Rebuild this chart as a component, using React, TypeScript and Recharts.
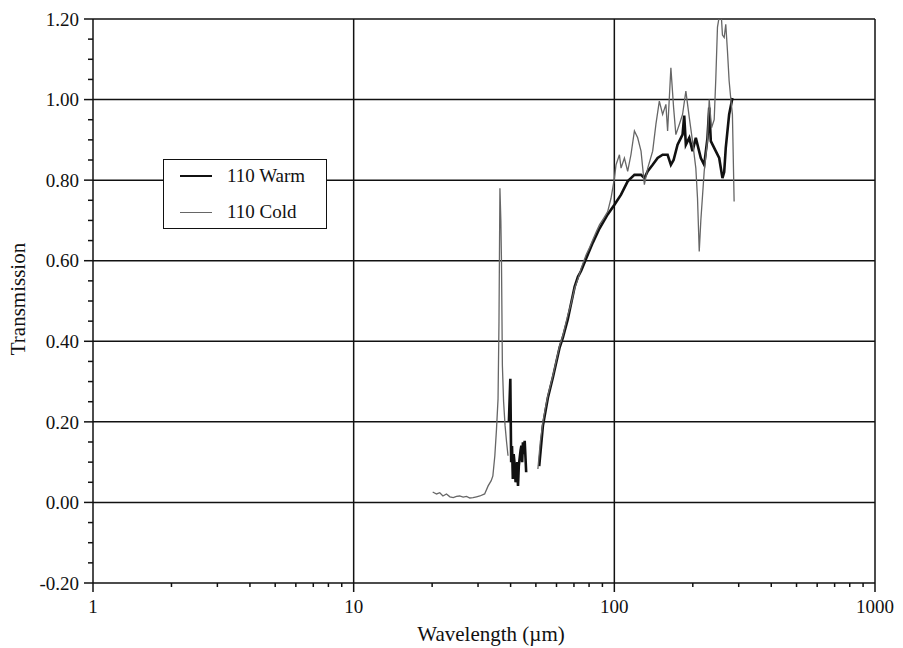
import React from "react"
import {
	LineChart,
	Line,
	XAxis,
	YAxis,
	ReferenceLine,
	Legend,
} from "recharts"

// wavelength (µm) and transmission
const warmWl = [
	39.4, 39.9, 40.2, 40.5, 40.8, 41.1, 41.5, 41.8, 42.1, 42.4, 42.7, 43.0, 43.3, 43.7,
	44.0, 44.3, 44.6, 45.0, 45.3, 45.9, 48,
	51.5, 53.2, 55.6, 58.1, 61.7, 63.5, 66.3, 70.4, 72.5, 74.6, 77.9, 82.7, 87.7, 94.3,
	100.1, 106.1, 112.5, 115.8, 119.4, 126.6, 130.4, 134.3, 140.3, 146.6, 153.2, 160.1,
	164.8, 168.8, 174.8, 182.7, 185.4, 188.1, 193.9, 199.5, 205.4, 214.7, 221.2, 227.7,
	231.2, 234.5, 245.0, 252.5, 259.9, 263.9, 267.6, 275.7, 283.8,
]
const warmT = [
	0.2, 0.307, 0.1, 0.14, 0.058, 0.12, 0.091, 0.05, 0.066, 0.1, 0.041, 0.09, 0.108, 0.13,
	0.141, 0.1, 0.149, 0.12, 0.153, 0.075, null,
	0.09, 0.19, 0.26, 0.31, 0.385, 0.41, 0.455, 0.535, 0.56, 0.575, 0.605, 0.645, 0.68, 0.715,
	0.739, 0.764, 0.797, 0.805, 0.813, 0.813, 0.805, 0.822, 0.838, 0.855, 0.863, 0.863,
	0.838, 0.85, 0.888, 0.913, 0.96, 0.888, 0.905, 0.872, 0.905, 0.855, 0.838, 0.905,
	0.98, 0.897, 0.872, 0.855, 0.805, 0.82, 0.88, 0.963, 1.004,
]

const coldWl = [
	20.1, 20.8, 21.4, 22.0, 22.7, 23.4, 24.1, 24.8, 25.5, 26.3, 27.1, 27.9, 28.7, 29.6,
	30.5, 31.8, 32.8, 33.7, 34.2, 34.8, 35.3, 35.8, 36.1, 36.4, 36.7, 36.9, 37.2, 37.6,
	38.1, 38.6, 39.1, 45,
	50.9, 52.0, 53.2, 54.4, 55.6, 58.1, 60.0, 61.7, 63.5, 66.3, 68.0, 70.4, 72.5, 74.6,
	77.9, 80.0, 82.7, 85.0, 87.7, 91.0, 94.3, 97.1, 100.1, 101.5, 104.6, 106.1, 109.3,
	112.5, 115.8, 119.4, 122.9, 126.6, 130.4, 134.3, 140.3, 144.4, 148.8, 153.2, 157.7,
	160.1, 164.8, 168.8, 172.2, 177.5, 182.7, 188.1, 193.9, 199.5, 205.4, 208.5, 211.7,
	214.7, 221.2, 227.7, 231.2, 236.0, 241.6, 245.0, 248.7, 256.1, 259.9, 263.9, 267.6,
	271.6, 275.7, 279.6, 283.8, 288.1,
]
const coldT = [
	0.026, 0.021, 0.024, 0.016, 0.021, 0.014, 0.012, 0.015, 0.016, 0.013, 0.015, 0.011, 0.012, 0.014,
	0.016, 0.021, 0.041, 0.054, 0.066, 0.116, 0.18, 0.257, 0.45, 0.78, 0.7, 0.6, 0.34, 0.25,
	0.19, 0.15, 0.116, null,
	0.083, 0.15, 0.199, 0.235, 0.266, 0.315, 0.355, 0.39, 0.415, 0.465, 0.49, 0.531, 0.555, 0.581,
	0.614, 0.63, 0.652, 0.67, 0.689, 0.705, 0.722, 0.755, 0.805, 0.838, 0.863, 0.83, 0.855,
	0.822, 0.863, 0.922, 0.905, 0.872, 0.789, 0.83, 0.872, 0.939, 0.996, 0.963, 0.988,
	0.922, 1.079, 0.98, 0.913, 0.938, 0.963, 1.021, 0.955, 0.897, 0.83, 0.755, 0.623,
	0.7, 0.822, 0.9, 1.0, 0.93, 0.95, 1.05, 1.18, 1.229, 1.16, 1.154, 1.187,
	1.121, 1.046, 1.004, 0.963, 0.747,
]

const seriesNames = ["110 Warm", "110 Cold"]
const xMajor = [1, 10, 100, 1000]
const xTicks = [
	1, 2, 3, 4, 5, 6, 7, 8, 9, 10, 20, 30, 40, 50, 60, 70, 80, 90, 100, 200, 300, 400,
	500, 600, 700, 800, 900, 1000,
]
const yMajor = [-0.2, 0, 0.2, 0.4, 0.6, 0.8, 1.0, 1.2]
const yTicks = [
	-0.2, -0.15, -0.1, -0.05, 0, 0.05, 0.1, 0.15, 0.2, 0.25, 0.3, 0.35, 0.4, 0.45, 0.5,
	0.55, 0.6, 0.65, 0.7, 0.75, 0.8, 0.85, 0.9, 0.95, 1.0, 1.05, 1.1, 1.15, 1.2,
]

const warmData = warmWl.map((w, i) => ({ w, t: warmT[i] }))
const coldData = coldWl.map((w, i) => ({ w, t: coldT[i] }))

const INK = "#111"
const COLD = "#666"
const FONT = "'Liberation Serif', 'Times New Roman', serif"

const YTick = (props: any) => {
	const { x, y, payload } = props
	const v = payload.value
	const major = yMajor.some((m) => Math.abs(m - v) < 1e-6)
	return (
		<g>
			<line x1={x - (major ? 9 : 5)} x2={x} y1={y} y2={y} stroke={INK} strokeWidth={1.5} />
			{major && (
				<text x={x - 14} y={y} dy="0.35em" textAnchor="end" fontSize={19} fontFamily={FONT} fill={INK}>
					{v.toFixed(2)}
				</text>
			)}
		</g>
	)
}

const XTick = (props: any) => {
	const { x, y, payload } = props
	const major = xMajor.includes(payload.value)
	return (
		<g>
			<line x1={x} x2={x} y1={y} y2={y + (major ? 9 : 4)} stroke={INK} strokeWidth={1.5} />
			{major && (
				<text x={x} y={y + 30} textAnchor="middle" fontSize={19} fontFamily={FONT} fill={INK}>
					{payload.value}
				</text>
			)}
		</g>
	)
}

const LegendBox = (props: any) => {
	const items = [...(props.payload || [])].sort(
		(a: any, b: any) => seriesNames.indexOf(a.value) - seriesNames.indexOf(b.value)
	)
	return (
		<div
			style={{
				boxSizing: "border-box",
				width: 164,
				height: 70,
				border: `1.5px solid ${INK}`,
				background: "#fff",
				fontFamily: FONT,
				fontSize: 19,
				color: INK,
				position: "relative",
			}}
		>
			{items.map((it: any, i: number) => (
				<div key={it.value} style={{ position: "absolute", left: 16, top: 4 + i * 36, height: 24, display: "flex", alignItems: "center" }}>
					<div style={{ width: 32, height: 0, borderTop: `${it.value === seriesNames[0] ? 2 : 1}px solid ${it.color}` }} />
					<span style={{ marginLeft: 15, lineHeight: "24px" }}>{it.value}</span>
				</div>
			))}
		</div>
	)
}

export default function App() {
	return (
		<div style={{ position: "absolute", left: 0, top: 0, width: 903, height: 648, background: "#fff" }}>
			<LineChart width={903} height={648} margin={{ top: 19, right: 28, bottom: 0, left: 0 }}>
				<XAxis
					dataKey="w"
					type="number"
					scale="log"
					domain={[1, 1000]}
					allowDataOverflow
					ticks={xTicks}
					interval={0}
					height={65}
					tickSize={0}
					tickMargin={0}
					tickLine={false}
					axisLine={{ stroke: INK, strokeWidth: 1.5 }}
					tick={<XTick />}
					label={{ value: "Wavelength (µm)", position: { x: 398, y: 58 }, textAnchor: "middle", fontSize: 21, fontFamily: FONT, fill: INK }}
				/>
				<YAxis
					dataKey="t"
					type="number"
					domain={[-0.2, 1.2]}
					allowDataOverflow
					ticks={yTicks}
					interval={0}
					width={93}
					tickSize={0}
					tickMargin={0}
					tickLine={false}
					axisLine={{ stroke: INK, strokeWidth: 1.5 }}
					tick={<YTick />}
					label={{ value: "Transmission", position: { x: 25, y: 280 }, angle: -90, textAnchor: "middle", fontSize: 21, fontFamily: FONT, fill: INK }}
				/>
				{[10, 100, 1000].map((v) => (
					<ReferenceLine key={"x" + v} x={v} stroke={INK} strokeWidth={1.5} />
				))}
				{yMajor.slice(1).map((v) => (
					<ReferenceLine key={"y" + v} y={v} stroke={INK} strokeWidth={1.5} />
				))}
				<Legend
					layout="vertical"
					align="center"
					verticalAlign="middle"
					content={<LegendBox />}
					wrapperStyle={{ left: 163, top: 159, width: 164, height: 70 }}
				/>
				<Line
					data={warmData}
					dataKey="t"
					name={seriesNames[0]}
					type="linear"
					dot={false}
					stroke={INK}
					strokeWidth={2.6}
					connectNulls={false}
					isAnimationActive={false}
				/>
				<Line
					data={coldData}
					dataKey="t"
					name={seriesNames[1]}
					type="linear"
					dot={false}
					stroke={COLD}
					strokeWidth={1.3}
					connectNulls={false}
					isAnimationActive={false}
				/>
			</LineChart>
		</div>
	)
}
